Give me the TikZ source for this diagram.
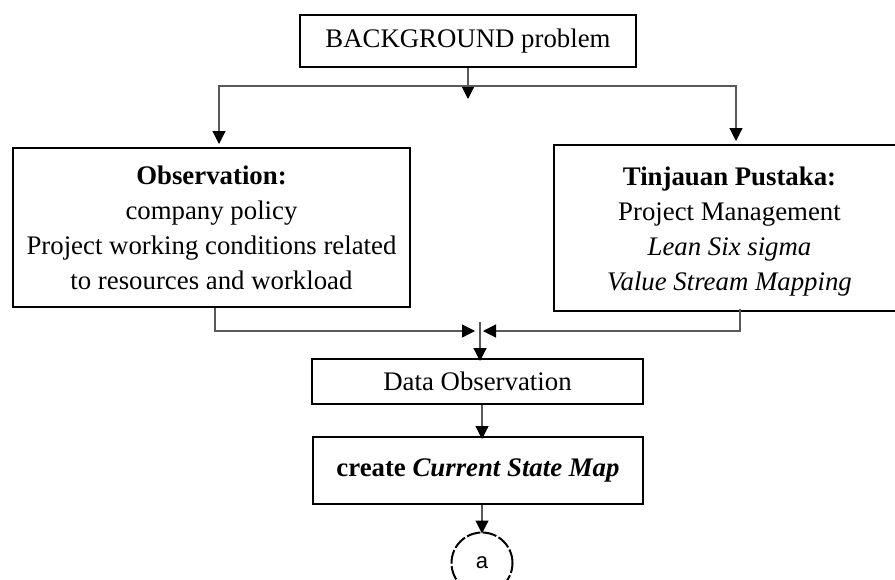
\documentclass[tikz,border=0pt]{standalone}
\usepackage{fontspec}
\setmainfont{Liberation Serif}
\newfontfamily\arialfont{Liberation Sans}
\usetikzlibrary{arrows.meta,calc}
\tikzset{
  box/.style={draw=black, line width=2pt, inner sep=0pt, align=center,
    font=\fontsize{26.8}{35}\selectfont},
  conn/.style={draw=black!65, line width=1.2pt,
    -{Triangle[length=13pt,width=13pt,fill=black,color=black]}},
}
\begin{document}
\begin{tikzpicture}[x=1pt,y=-1pt]
\useasboundingbox (0,0) rectangle (895,579);
\clip (0,0) rectangle (895,579);

% boxes
\node[box, minimum width=336pt, minimum height=52pt] (bg) at (468,41) {BACKGROUND problem};
\node[box, minimum width=397pt, minimum height=159pt] (obs) at (211.5,227.5)
  {\textbf{Observation:}\\company policy\\Project working conditions related\\to resources and workload};
\node[box, minimum width=351pt, minimum height=166pt] (tin) at (729.5,228)
  {\rule{0pt}{26pt}\textbf{Tinjauan Pustaka:}\\Project Management\\\textit{Lean Six sigma}\\\textit{Value Stream Mapping}};
\node[box, minimum width=331pt, minimum height=45pt] (data) at (477.5,381.5) {Data Observation};
\node[box, minimum width=330pt, minimum height=67pt] (create) at (478,470.5)
  {\textbf{create \textit{Current State Map}}};
\node[draw=black, line width=2pt, dash pattern=on 14pt off 2.5pt, circle,
  minimum size=61pt, inner sep=0pt, font=\arialfont\fontsize{22}{24}\selectfont] (conA) at (482,563) {a};

% split below the background problem
\coordinate (split) at (468,86);
\coordinate (mid) at (468,99);
\draw[conn] (bg.south) -- (mid);
\draw[conn] (split) -| ([xshift=7.5pt,yshift=3pt]obs.north);
\draw[conn] (split) -| ([xshift=6.5pt,yshift=3pt]tin.north);

% merge into data observation
\coordinate (join) at (480,331);
\coordinate (jtop) at (480,322);
\draw[conn] ([xshift=3.5pt]obs.south) |- ([xshift=-5pt]join);
\draw[conn] ([xshift=10.5pt,yshift=3pt]tin.south) |- ([xshift=3pt]join);
\draw[conn] (jtop) -- ([yshift=-3pt]data.north -| jtop);

% down the main column
\coordinate (col) at (482,0);
\draw[conn] (data.south -| col) -- ([yshift=-3pt]create.north -| col);
\draw[conn] (create.south -| conA) -- ([yshift=-2pt]conA.north);
\end{tikzpicture}
\end{document}
